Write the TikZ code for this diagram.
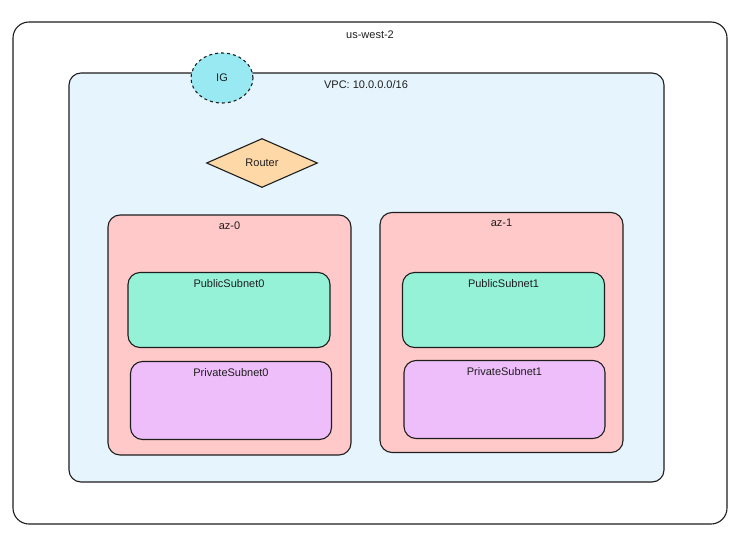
\documentclass[tikz,border=0pt]{standalone}
\usepackage{fontspec}
\setmainfont{Liberation Sans}
\usetikzlibrary{positioning}
\usetikzlibrary{shapes.geometric}

\definecolor{inkline}{HTML}{1E1E1E}
\definecolor{vpcfill}{HTML}{E5F4FD}
\definecolor{igfill}{HTML}{99E9F2}
\definecolor{routerfill}{HTML}{FFD8A8}
\definecolor{azfill}{HTML}{FFC9C9}
\definecolor{pubfill}{HTML}{96F2D7}
\definecolor{privfill}{HTML}{EEBEFA}

\tikzset{
  box/.style={draw=inkline, line width=1.1pt, rounded corners=12pt, inner sep=0pt},
  azbox/.style={box, fill=azfill, minimum width=243pt, minimum height=240pt},
  pubbox/.style={box, fill=pubfill, minimum width=202pt, minimum height=75pt},
  privbox/.style={box, fill=privfill, minimum width=201pt, minimum height=78pt},
  lbl/.style={font=\fontsize{11}{13}\selectfont, text=inkline, inner sep=1pt}
}

\begin{document}
\begin{tikzpicture}[x=1pt, y=-1pt]
					\useasboundingbox[fill=white] (0, 0) rectangle (749, 543);
					\node[box, fill=white, rounded corners=16pt, minimum width=714pt, minimum height=502pt] (region) at (370, 273) {};
					\node[lbl, below=8pt of region.north] (regionlabel) {us-west-2};
					\node[box, fill=vpcfill, minimum width=595pt, minimum height=409pt] (vpc) at (366.5, 277.5) {};
					\node[lbl] (vpclabel) at (366, 85) {VPC: 10.0.0.0/16};
					\node[draw=inkline, line width=1.1pt, dashed, ellipse, fill=igfill, minimum width=62pt, minimum height=50pt, lbl] (ig) at (222, 78) {IG};
					\node[draw=inkline, line width=1.1pt, diamond, aspect=2.3, fill=routerfill, minimum width=111pt, minimum height=49pt, inner sep=0pt, lbl] (router) at (262, 163) {Router};
					% availability zones
					\node[azbox] (az0) at (229.5, 335) {};
					\node[lbl, below=6pt of az0.north] (az0label) {az-0};
					\node[azbox] (az1) at (501.5, 332.5) {};
					\node[lbl, below=6pt of az1.north] (az1label) {az-1};
					% subnets
					\node[pubbox] (pub0) at (229, 310) {};
					\node[lbl, below=6pt of pub0.north] (pub0label) {PublicSubnet0};
					\node[privbox] (priv0) at (231, 400.5) {};
					\node[lbl, below=6pt of priv0.north] (priv0label) {PrivateSubnet0};
					\node[pubbox] (pub1) at (503.5, 310) {};
					\node[lbl, below=6pt of pub1.north] (pub1label) {PublicSubnet1};
					\node[privbox] (priv1) at (504.5, 399.5) {};
					\node[lbl, below=6pt of priv1.north] (priv1label) {PrivateSubnet1};
				\end{tikzpicture}
\end{document}
